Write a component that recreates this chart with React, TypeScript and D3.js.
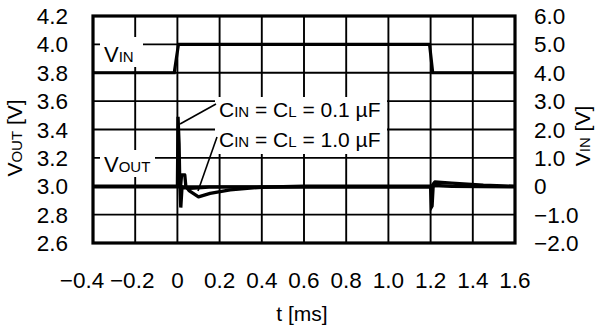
import React from "react";
import * as d3 from "d3";

const W = 596;
const H = 329;

// Axis domains and ticks
const tTicks = [-0.4, -0.2, 0, 0.2, 0.4, 0.6, 0.8, 1.0, 1.2, 1.4, 1.6];
const tTickLabels = ["−0.4", "−0.2", "0", "0.2", "0.4", "0.6", "0.8", "1.0", "1.2", "1.4", "1.6"];
const voutTicks = [2.6, 2.8, 3.0, 3.2, 3.4, 3.6, 3.8, 4.0, 4.2];
const voutTickLabels = ["2.6", "2.8", "3.0", "3.2", "3.4", "3.6", "3.8", "4.0", "4.2"];
const vinTicks = [-2, -1, 0, 1, 2, 3, 4, 5, 6];
const vinTickLabels = ["−2.0", "−1.0", "0", "1.0", "2.0", "3.0", "4.0", "5.0", "6.0"];

// V_IN trace (right axis, volts)
const vinT = [-0.4, -0.015, 0.005, 1.195, 1.21, 1.6];
const vinV = [4.0, 4.0, 5.0, 5.0, 4.0, 4.0];

// V_OUT trace, C = 0.1 uF (left axis, volts)
const vout01T = [-0.4, 0.0, 0.003, 0.008, 0.011, 0.016, 0.022, 0.03, 0.06, 0.15, 1.2, 1.203, 1.207, 1.212, 1.22, 1.3, 1.6];
const vout01V = [2.996, 2.996, 3.49, 3.3, 3.05, 2.85, 2.996, 2.99, 2.985, 2.994, 2.996, 2.85, 2.86, 2.996, 3.006, 3.0, 2.996];

// V_OUT trace, C = 1.0 uF (left axis, volts)
const vout10T = [-0.4, 0.015, 0.02, 0.035, 0.04, 0.055, 0.1, 0.155, 0.25, 0.4, 0.6, 1.2, 1.205, 1.22, 1.3, 1.45, 1.6];
const vout10V = [3.0, 3.0, 3.08, 3.08, 3.0, 2.97, 2.925, 2.95, 2.975, 2.993, 3.0, 3.0, 3.0, 3.03, 3.022, 3.008, 3.0];

const FONT = "'Liberation Sans', Arial, Helvetica, sans-serif";
const TICK_FS = 22.5;

export default function App() {
  const L = 93, R = 515, T = 16, B = 243;
  const x = d3.scaleLinear().domain([-0.4, 1.6]).range([L, R]);
  const yL = d3.scaleLinear().domain([2.6, 4.2]).range([B, T]);
  const yR = d3.scaleLinear().domain([-2, 6]).range([B, T]);

  const line = (ts: number[], vs: number[], y: d3.ScaleLinear<number, number>) =>
    d3.line<number>().x((_, i) => x(ts[i])).y((v) => y(v))(vs) || "";

  const vinPath = line(vinT, vinV, yR);
  const p01 = line(vout01T, vout01V, yL);
  const p10 = line(vout10T, vout10V, yL);

  // nudge for the wide negative labels so they don't collide
  const labelDx = (t: number) => (t <= -0.4 ? -11 : t < 0 ? -3 : 0);

  return (
    <svg width={W} height={H} style={{ position: "absolute", left: 0, top: 0, background: "#fff" }} fontFamily={FONT}>
      <rect x={0} y={0} width={W} height={H} fill="#fff" />
      {/* grid */}
      {tTicks.map((t) => (
        <line key={"gx" + t} x1={x(t)} x2={x(t)} y1={T} y2={B} stroke="#000" strokeWidth={1.9} />
      ))}
      {voutTicks.map((v) => (
        <line key={"gy" + v} x1={L} x2={R} y1={yL(v)} y2={yL(v)} stroke="#000" strokeWidth={1.9} />
      ))}

      {/* label backgrounds */}
      <rect x={100} y={37} width={43} height={30} fill="#fff" />
      <rect x={100} y={150} width={55} height={27} fill="#fff" />
      <rect x={215} y={97} width={172} height={57} fill="#fff" />

      {/* traces */}
      <path d={vinPath} fill="none" stroke="#000" strokeWidth={3.2} strokeLinejoin="miter" />
      <path d={p10} fill="none" stroke="#000" strokeWidth={3.3} strokeLinejoin="round" />
      <path d={p01} fill="none" stroke="#000" strokeWidth={3.3} strokeLinejoin="miter" />

      {/* leader lines */}
      <line x1={180} y1={124} x2={216} y2={104} stroke="#000" strokeWidth={1.6} />
      <line x1={198} y1={191} x2={217} y2={137} stroke="#000" strokeWidth={1.6} />

      {/* frame */}
      <rect x={L} y={T} width={R - L} height={B - T} fill="none" stroke="#000" strokeWidth={3.2} />

      {/* in-plot labels */}
      <text x={104} y={62} fontSize={22} fill="#000">
        V<tspan fontSize={15}>IN</tspan>
      </text>
      <text x={104} y={172} fontSize={22} fill="#000">
        V<tspan fontSize={15}>OUT</tspan>
      </text>
      <text x={219} y={117} fontSize={21} fill="#000">
        C<tspan fontSize={15}>IN</tspan> = C<tspan fontSize={15}>L</tspan> = 0.1 µF
      </text>
      <text x={219} y={147} fontSize={21} fill="#000">
        C<tspan fontSize={15}>IN</tspan> = C<tspan fontSize={15}>L</tspan> = 1.0 µF
      </text>

      {/* left ticks */}
      {voutTicks.map((v, i) => (
        <text key={"yl" + v} x={68} y={yL(v)} dy="0.36em" textAnchor="end" fontSize={TICK_FS} fill="#000">
          {voutTickLabels[i]}
        </text>
      ))}
      {/* right ticks */}
      {vinTicks.map((v, i) => (
        <text key={"yr" + v} x={534} y={yR(v)} dy="0.36em" textAnchor="start" fontSize={TICK_FS} fill="#000">
          {vinTickLabels[i]}
        </text>
      ))}
      {/* bottom ticks */}
      {tTicks.map((t, i) => (
        <text key={"xt" + t} x={x(t) + labelDx(t)} y={288} textAnchor="middle" fontSize={TICK_FS} fill="#000">
          {tTickLabels[i]}
        </text>
      ))}

      {/* axis titles */}
      <text x={302} y={321} textAnchor="middle" fontSize={21} fill="#000">t [ms]</text>
      <text transform="translate(22,138) rotate(-90)" textAnchor="middle" fontSize={21} fill="#000">
        V<tspan fontSize={15}>OUT</tspan> [V]
      </text>
      <text transform="translate(590,136) rotate(-90)" textAnchor="middle" fontSize={21} fill="#000">
        V<tspan fontSize={15}>IN</tspan> [V]
      </text>
    </svg>
  );
}
